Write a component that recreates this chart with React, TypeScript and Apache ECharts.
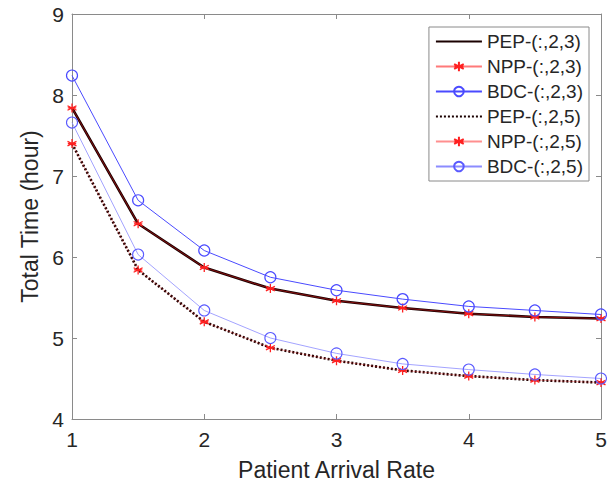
import React, { useEffect, useRef } from "react";
import * as echarts from "echarts";

const arrivalRates = [1, 1.5, 2, 2.5, 3, 3.5, 4, 4.5, 5];
const pep23 = [7.84, 6.41, 5.87, 5.61, 5.46, 5.37, 5.30, 5.26, 5.24];
const npp23 = [7.84, 6.41, 5.87, 5.61, 5.46, 5.37, 5.30, 5.26, 5.24];
const bdc23 = [8.24, 6.70, 6.08, 5.75, 5.59, 5.48, 5.39, 5.34, 5.29];
const pep25 = [7.40, 5.84, 5.20, 4.88, 4.72, 4.60, 4.53, 4.48, 4.45];
const npp25 = [7.40, 5.84, 5.20, 4.88, 4.72, 4.60, 4.53, 4.48, 4.45];
const bdc25 = [7.66, 6.03, 5.34, 5.00, 4.81, 4.68, 4.61, 4.55, 4.50];

const seriesNames = [
  "PEP-(:,2,3)",
  "NPP-(:,2,3)",
  "BDC-(:,2,3)",
  "PEP-(:,2,5)",
  "NPP-(:,2,5)",
  "BDC-(:,2,5)",
];

const asterisk =
  "path://M5,0L5,10M0.67,2.5L9.33,7.5M0.67,7.5L9.33,2.5M1,5L9,5";

const pairs = (ys: number[]) => arrivalRates.map((x, i) => [x, ys[i]]);

export default function App() {
  const ref = useRef<HTMLDivElement>(null);
  useEffect(() => {
    if (!ref.current) return;
    const chart = echarts.init(ref.current, undefined, { renderer: "svg" });
    const font = "Liberation Sans";
    const axisCommon = {
      type: "value" as const,
      axisLine: { show: true, lineStyle: { color: "#8a8a8a", width: 1 } },
      axisTick: { show: true, inside: true, length: 5, lineStyle: { color: "#8a8a8a" } },
      splitLine: { show: false },
    };
    chart.setOption({
      animation: false,
      backgroundColor: "#ffffff",
      textStyle: { fontFamily: font },
      grid: { left: 72, right: 14, top: 14, bottom: 62 },
      legend: {
        orient: "vertical",
        right: 26,
        top: 27,
        padding: [5, 6, 5, 6],
        itemWidth: 46,
        itemHeight: 12,
        itemGap: 6,
        borderColor: "#8a8a8a",
        borderWidth: 1,
        backgroundColor: "#ffffff",
        textStyle: { fontFamily: font, fontSize: 19, color: "#262626", padding: [0, 0, 0, 0] },
        data: seriesNames,
      },
      xAxis: [
        {
          ...axisCommon,
          min: 1,
          max: 5,
          interval: 1,
          position: "bottom",
          name: "Patient Arrival Rate",
          nameLocation: "middle",
          nameGap: 39,
          nameTextStyle: { fontFamily: font, fontSize: 23, color: "#262626" },
          axisLabel: { fontFamily: font, fontSize: 21, color: "#262626", margin: 10 },
        },
        {
          ...axisCommon,
          min: 1,
          max: 5,
          interval: 1,
          position: "top",
          axisLabel: { show: false },
        },
      ],
      yAxis: [
        {
          ...axisCommon,
          min: 4,
          max: 9,
          interval: 1,
          position: "left",
          name: "Total Time (hour)",
          nameLocation: "middle",
          nameGap: 28,
          nameTextStyle: { fontFamily: font, fontSize: 23, color: "#262626" },
          axisLabel: { fontFamily: font, fontSize: 21, color: "#262626", margin: 8 },
        },
        {
          ...axisCommon,
          min: 4,
          max: 9,
          interval: 1,
          position: "right",
          axisLabel: { show: false },
        },
      ],
      series: [
        {
          name: seriesNames[0],
          type: "line",
          data: pairs(pep23),
          symbol: "none",
          lineStyle: { color: "#1a0000", width: 2.6 },
          itemStyle: { color: "transparent", borderColor: "transparent" },
          z: 2,
        },
        {
          name: seriesNames[1],
          type: "line",
          data: pairs(npp23),
          symbol: asterisk,
          symbolSize: 9,
          lineStyle: { color: "#ff2020", width: 0.8, opacity: 0.6 },
          itemStyle: { color: "none", borderColor: "#ff2020", borderWidth: 1.3 },
          z: 3,
        },
        {
          name: seriesNames[2],
          type: "line",
          data: pairs(bdc23),
          symbol: "circle",
          symbolSize: 11,
          lineStyle: { color: "#4a4aff", width: 1 },
          itemStyle: { color: "transparent", borderColor: "#4a4aff", borderWidth: 1.2 },
          z: 4,
        },
        {
          name: seriesNames[3],
          type: "line",
          data: pairs(pep25),
          symbol: "none",
          lineStyle: { color: "#1a0000", width: 2.6, type: [2, 2] },
          itemStyle: { color: "transparent", borderColor: "transparent" },
          z: 2,
        },
        {
          name: seriesNames[4],
          type: "line",
          data: pairs(npp25),
          symbol: asterisk,
          symbolSize: 9,
          lineStyle: { color: "#ff2020", width: 0.6, opacity: 0.5 },
          itemStyle: { color: "none", borderColor: "#ff2020", borderWidth: 1.3 },
          z: 3,
        },
        {
          name: seriesNames[5],
          type: "line",
          data: pairs(bdc25),
          symbol: "circle",
          symbolSize: 11,
          lineStyle: { color: "#8c8cff", width: 0.8 },
          itemStyle: { color: "transparent", borderColor: "#5a5aff", borderWidth: 1.1 },
          z: 4,
        },
      ],
    });
    return () => chart.dispose();
  }, []);
  return <div ref={ref} style={{ width: 615, height: 486, margin: -8 }} />;
}
